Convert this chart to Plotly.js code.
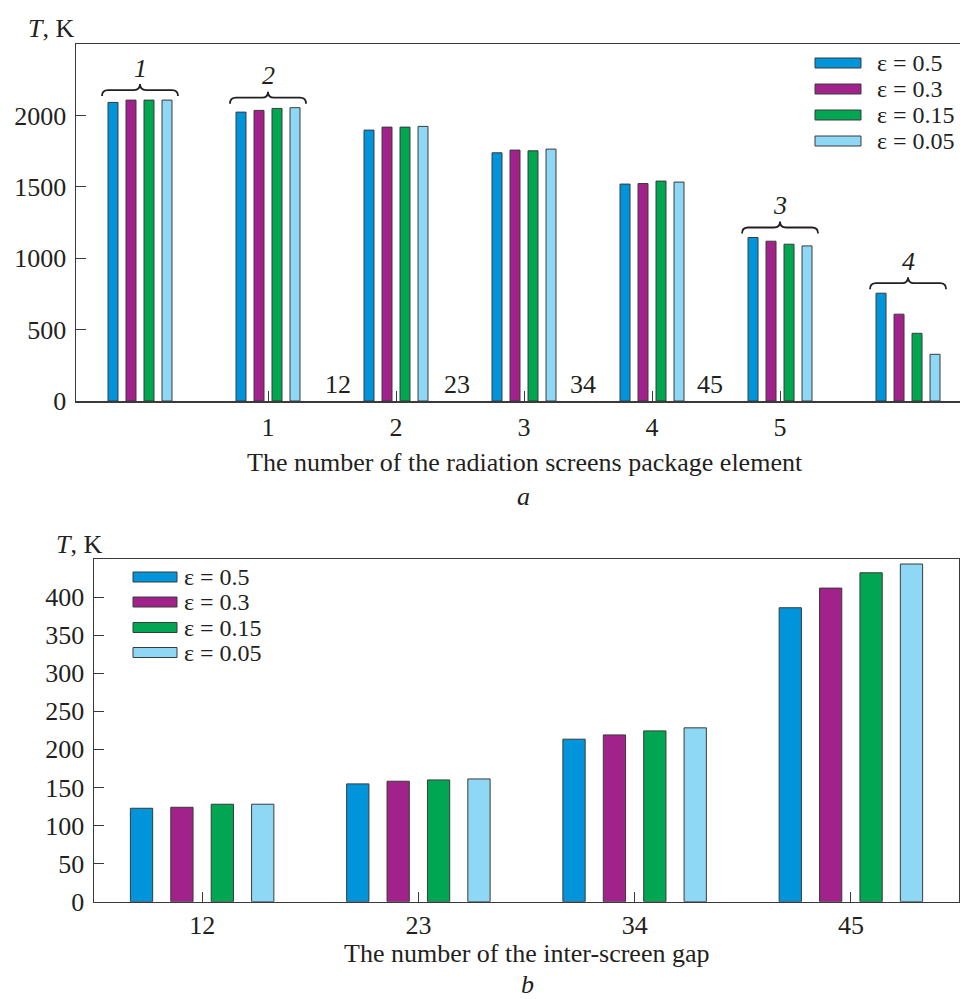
<!DOCTYPE html>
<html>
<head>
<meta charset="utf-8">
<script src="https://cdn.plot.ly/plotly-3.0.1.min.js"></script>
<style>
  html, body { margin: 0; padding: 0; background: #fff; }
  #chart { width: 960px; height: 999px; }
</style>
</head>
<body>
<div id="chart"></div>
<script>
// Emissivity cases (one bar series per case)
const emissivityLabels = ['ε = 0.5', 'ε = 0.3', 'ε = 0.15', 'ε = 0.05'];
const seriesColors = ['#0095da', '#a0228a', '#00a651', '#8ed8f6'];

// (a) Temperature of the radiation screens package elements, K
const elementIndex = [0, 1, 2, 3, 4, 5, 6];
const screenTickIndex = [1, 2, 3, 4, 5];
const screenLabels = ['1', '2', '3', '4', '5'];
const elemTempEps05 = [2091, 2023, 1897, 1738, 1519, 1145, 755];
const elemTempEps03 = [2107, 2035, 1918, 1757, 1523, 1119, 608];
const elemTempEps015 = [2107, 2049, 1918, 1752, 1540, 1098, 474];
const elemTempEps005 = [2107, 2054, 1923, 1764, 1533, 1086, 327];

// Bracketed groups in (a) and their italic labels
const bracedElements = [0, 1, 5, 6];
const braceLabels = ['1', '2', '3', '4'];

// Gap labels placed between the screens in (a)
const gapMarkIndex = [1.55, 2.48, 3.46, 4.45];

// (b) Temperature in the inter-screen gaps, K
const gapLabels = ['12', '23', '34', '45'];
const gapTempEps05 = [122.7, 154.7, 213.4, 386];
const gapTempEps03 = [124, 158.2, 219, 411.8];
const gapTempEps015 = [128, 159.9, 224.3, 431.9];
const gapTempEps005 = [128, 161.2, 228.3, 443.4];

const elemSeries = [elemTempEps05, elemTempEps03, elemTempEps015, elemTempEps005];
const gapSeries = [gapTempEps05, gapTempEps03, gapTempEps015, gapTempEps005];

const FONT = 'Liberation Serif';
const INK = '#231f20';
const AXIS = '#3a3a3a';
const H = 999, W = 960;

// bar geometry (in category units)
const slotA = 0.1406, widthA = 0.078;
const slotB = 0.1868, widthB = 0.103;

const traces = [];
elemSeries.forEach((vals, i) => {
  traces.push({
    type: 'bar', x: elementIndex, y: vals, name: emissivityLabels[i],
    xaxis: 'x', yaxis: 'y', showlegend: false,
    width: widthA, offset: (i - 1.5) * slotA - widthA / 2,
    marker: { color: seriesColors[i], line: { color: AXIS, width: 1 } },
    hoverinfo: 'y+name'
  });
});
gapSeries.forEach((vals, i) => {
  traces.push({
    type: 'bar', x: gapLabels, y: vals, name: emissivityLabels[i],
    xaxis: 'x2', yaxis: 'y2', showlegend: false,
    width: widthB, offset: (i - 1.5) * slotB - widthB / 2,
    marker: { color: seriesColors[i], line: { color: AXIS, width: 1 } },
    hoverinfo: 'y+name'
  });
});

const shapes = [];
const annotations = [];
const px = (v) => 1 - v / H;   // page pixel row -> paper y

// Curly braces above selected groups of (a)
const bracePath = 'M-38,4 Q-38,10 -32,10 L-6,10 Q0,10 0,16 Q0,10 6,10 L32,10 Q38,10 38,4';
bracedElements.forEach((idx, k) => {
  const top = Math.max(...elemSeries.map(s => s[idx]));
  shapes.push({
    type: 'path', xref: 'x', yref: 'y', xsizemode: 'pixel', ysizemode: 'pixel',
    xanchor: idx, yanchor: top, path: bracePath,
    line: { color: INK, width: 1.8 }
  });
  annotations.push({
    xref: 'x', yref: 'y', x: idx, y: top, yshift: 32, showarrow: false,
    text: '<i>' + braceLabels[k] + '</i>', font: { family: FONT, size: 26, color: INK },
    xanchor: 'center', yanchor: 'middle'
  });
});

// Gap numbers between screens in (a)
gapLabels.forEach((g, k) => {
  annotations.push({
    xref: 'x', yref: 'y', x: gapMarkIndex[k], y: 119, showarrow: false,
    text: g, font: { family: FONT, size: 26, color: INK }, xanchor: 'center', yanchor: 'middle'
  });
});

// Hand-placed legends
function addLegend(x0, x1, textX, rows) {
  emissivityLabels.forEach((lab, i) => {
    const c = rows[i];
    shapes.push({
      type: 'rect', xref: 'paper', yref: 'paper',
      x0: x0 / W, x1: x1 / W, y0: px(c + 5), y1: px(c - 5),
      fillcolor: seriesColors[i], line: { color: AXIS, width: 1 }
    });
    annotations.push({
      xref: 'paper', yref: 'paper', x: textX / W, y: px(c), showarrow: false,
      text: lab, font: { family: FONT, size: 24, color: INK }, xanchor: 'left', yanchor: 'middle'
    });
  });
}
addLegend(815, 861, 875, [63, 89, 115, 141]);
addLegend(133, 177, 182, [577, 602, 627.5, 652.5]);

// Axis titles and panel letters
function pageText(text, x, y, anchor, size) {
  annotations.push({
    xref: 'paper', yref: 'paper', x: x / W, y: px(y), showarrow: false, text: text,
    font: { family: FONT, size: size || 26, color: INK }, xanchor: anchor || 'center', yanchor: 'middle'
  });
}
pageText('<i>T</i>, K', 26, 28, 'left');
pageText('The number of the radiation screens package element', 525, 462);
pageText('<i>a</i>', 523, 496);
pageText('<i>T</i>, K', 54, 544, 'left');
pageText('The number of the inter-screen gap', 527, 953);
pageText('<i>b</i>', 527, 984);

const tickFont = { family: FONT, size: 26, color: INK };
const axisCommon = {
  showgrid: false, zeroline: false, showline: true, linecolor: AXIS, linewidth: 1.5,
  ticks: 'inside', ticklen: 10, tickwidth: 1, tickcolor: AXIS, tickfont: tickFont, fixedrange: true
};

const layout = {
  width: W, height: H,
  margin: { l: 0, r: 0, t: 0, b: 0 },
  paper_bgcolor: '#fff', plot_bgcolor: '#fff',
  barmode: 'overlay',
  showlegend: false,
  xaxis: Object.assign({}, axisCommon, {
    domain: [76 / W, 1], anchor: 'y', range: [-0.5, 6.406],
    tickmode: 'array', tickvals: screenTickIndex, ticktext: screenLabels,
    mirror: true, ticklabelstandoff: 2
  }),
  yaxis: Object.assign({}, axisCommon, {
    domain: [px(401), px(44)], anchor: 'x', range: [0, 2500],
    tickmode: 'array', tickvals: [0, 500, 1000, 1500, 2000], ticklabelstandoff: 3
  }),
  xaxis2: Object.assign({}, axisCommon, {
    domain: [94 / W, 959 / W], anchor: 'y2', type: 'category', range: [-0.5, 3.5],
    mirror: true, ticklabelstandoff: 0
  }),
  yaxis2: Object.assign({}, axisCommon, {
    domain: [px(901.7), px(559)], anchor: 'x2', range: [0, 450],
    tickmode: 'array', tickvals: [0, 50, 100, 150, 200, 250, 300, 350, 400],
    mirror: true, ticklabelstandoff: 3
  }),
  shapes: shapes,
  annotations: annotations
};

Plotly.newPlot('chart', traces, layout, { displayModeBar: false, staticPlot: true });
</script>
</body>
</html>
